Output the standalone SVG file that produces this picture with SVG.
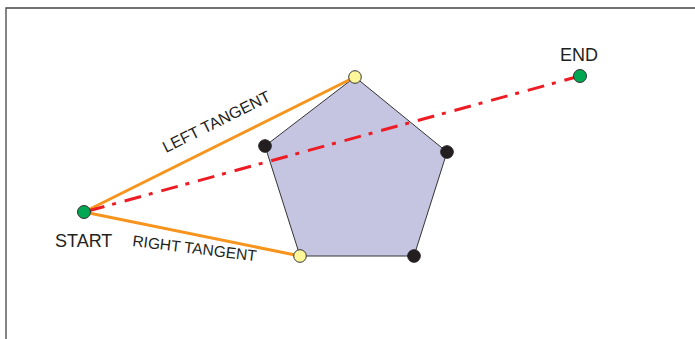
<svg xmlns="http://www.w3.org/2000/svg" width="695" height="339" viewBox="0 0 695 339">
<style>
.frame{fill:none;stroke:#444;stroke-width:1.3}
.tangent{stroke:#f7941d;stroke-width:3;fill:none}
.ray{stroke:#ed1c24;stroke-width:3;fill:none;stroke-dasharray:17 8 4 9}
.poly{fill:#c6c5e1;stroke:#333;stroke-width:1}
.v{fill:#231f20;stroke:#231f20;stroke-width:1}
.y{fill:#fff799;stroke:#333;stroke-width:1}
.g{fill:#00a651;stroke:#333;stroke-width:1}
.lbl{font-family:"Liberation Sans",Arial,sans-serif;fill:#231f20}
</style>
<rect width="695" height="339" fill="#fff"/>
<path class="frame" d="M6,339 V8 H695"/>
<g id="polygon">
<polygon class="poly" points="355,77 447,152 414,256 300,256 265,146"/>
</g>
<g id="connectors">
<line class="tangent" x1="84" y1="212" x2="355" y2="77"/>
<line class="tangent" x1="84" y1="212" x2="300" y2="256"/>
<line class="ray" x1="88" y1="211" x2="580" y2="76"/>
</g>
<g id="labels">
<text class="lbl" font-size="16" transform="translate(166,153) rotate(-26.5)">LEFT TANGENT</text>
<text class="lbl" font-size="15.5" transform="translate(132,246) rotate(7)">RIGHT TANGENT</text>
</g>
<g id="v-left"><circle class="v" cx="265" cy="146" r="6.3"/></g>
<g id="v-right"><circle class="v" cx="447" cy="152" r="6.3"/></g>
<g id="v-bottom-right"><circle class="v" cx="414" cy="256" r="6.3"/></g>
<g id="left-tangent-point"><circle class="y" cx="355" cy="77" r="6.3"/></g>
<g id="right-tangent-point"><circle class="y" cx="300" cy="256" r="6.3"/></g>
<g id="start">
<circle class="g" cx="84" cy="212" r="6.5"/>
<text class="lbl" font-size="18" x="55" y="247">START</text>
</g>
<g id="end">
<circle class="g" cx="580" cy="76" r="6.5"/>
<text class="lbl" font-size="18" x="560" y="61">END</text>
</g>
</svg>
